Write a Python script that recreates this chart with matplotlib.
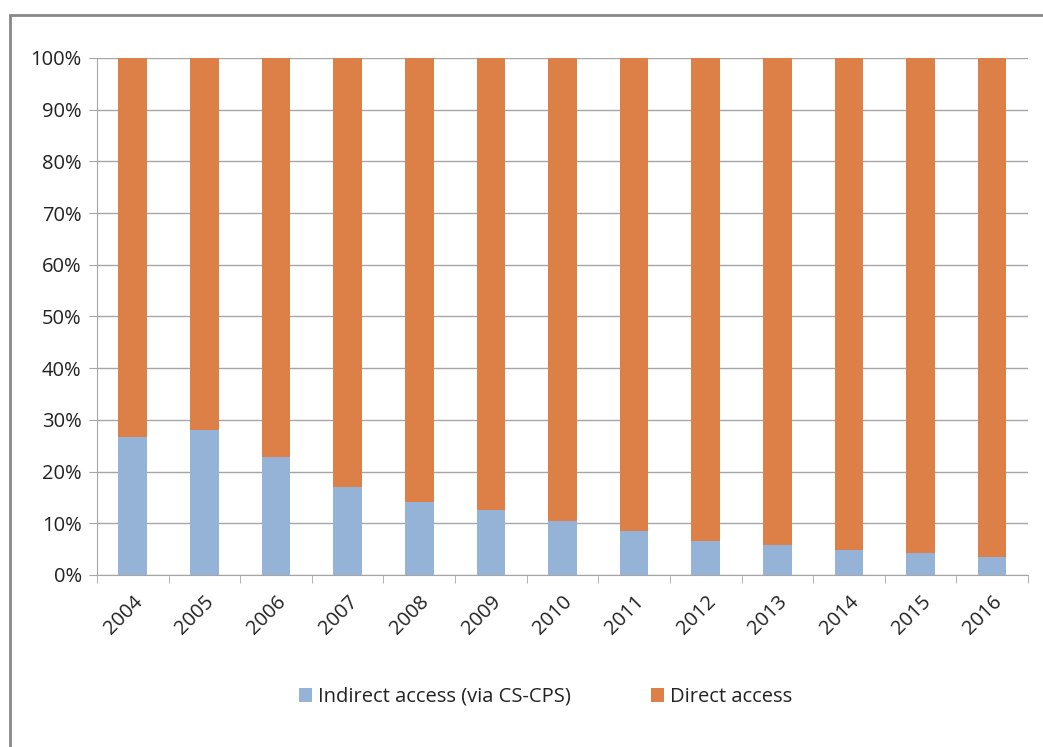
import numpy as np
import matplotlib.pyplot as plt
from matplotlib.patches import Rectangle
from matplotlib.ticker import PercentFormatter, FixedLocator

plt.rcParams['font.family'] = ['Open Sans', 'DejaVu Sans']

# Data (share of access, %)
years = ['2004', '2005', '2006', '2007', '2008', '2009', '2010',
         '2011', '2012', '2013', '2014', '2015', '2016']
indirect = [26.7, 28.0, 22.9, 17.1, 14.2, 12.6, 10.4, 8.6, 6.6, 5.7, 4.8, 4.2, 3.5]
direct = [100 - v for v in indirect]

blue = '#95B3D7'
orange = '#DD8047'
grid_col = '#A6A6A6'
text_col = '#222222'

fig = plt.figure(figsize=(10.43, 7.47), dpi=100)
ax = fig.add_axes([0.093, 0.2303, 0.8926, 0.6921])

x = np.arange(len(years))
ax.bar(x, indirect, width=0.4, color=blue, label='Indirect access (via CS-CPS)', zorder=3)
ax.bar(x, direct, width=0.4, bottom=indirect, color=orange, label='Direct access', zorder=3)

ax.set_xlim(-0.5, len(years) - 0.5)
ax.set_ylim(0, 100)
ax.set_yticks(np.arange(0, 101, 10))
ax.yaxis.set_major_formatter(PercentFormatter(decimals=0))
ax.grid(axis='y', color=grid_col, linewidth=1, zorder=0)

ax.set_xticks(x)
ax.set_xticklabels(years, rotation=45, ha='right', rotation_mode='anchor')
ax.xaxis.set_minor_locator(FixedLocator(np.arange(-0.5, len(years), 1)))
ax.tick_params(axis='x', which='major', length=0, labelsize=14.5, pad=12)
ax.tick_params(axis='x', which='minor', length=6, color=grid_col)
ax.tick_params(axis='y', length=6, color=grid_col, labelsize=14.5, pad=5)
for lbl in ax.get_yticklabels() + ax.get_xticklabels():
    lbl.set_color(text_col)

for s in ['top', 'right']:
    ax.spines[s].set_visible(False)
ax.spines['left'].set_color(grid_col)
ax.spines['bottom'].set_color(grid_col)

fig.legend(loc='center', bbox_to_anchor=(0.523, 0.067), ncol=2, frameon=False,
           fontsize=14.5, handlelength=0.65, handleheight=0.65, handletextpad=0.3,
           columnspacing=4.0, labelcolor=text_col)

# outer chart frame (bottom edge runs off the image)
fig.patches.append(Rectangle((10 / 1043, -0.1), 1.0, 1.1 - 15 / 747, transform=fig.transFigure,
                             fill=False, edgecolor='#888888', linewidth=2))

fig.savefig('out.png', dpi=100)
